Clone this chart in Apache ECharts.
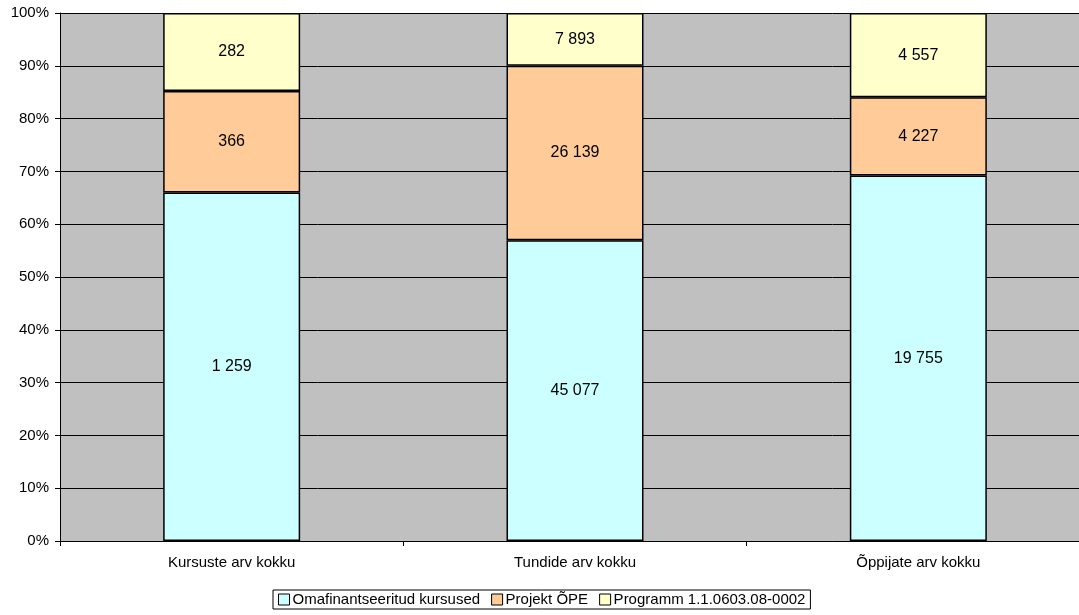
<!DOCTYPE html>
<html><head><meta charset="utf-8">
<script src="https://cdn.jsdelivr.net/npm/echarts@6/dist/echarts.min.js"></script>
<style>html,body{margin:0;padding:0;background:#fff;overflow:hidden}#c{width:1090px;height:615px}</style>
</head><body><div id="c"></div>
<script>
const categories = ['Kursuste arv kokku', 'Tundide arv kokku', 'Õppijate arv kokku'];
const seriesNames = ['Omafinantseeritud kursused', 'Projekt ÕPE', 'Programm 1.1.0603.08-0002'];
const omafinantseeritud = [1259, 45077, 19755];
const projektOPE = [366, 26139, 4227];
const programm = [282, 7893, 4557];
const colors = ['#CCFFFF', '#FFCC99', '#FFFFCC'];

const raw = [omafinantseeritud, projektOPE, programm];
const totals = categories.map((_, i) => raw.reduce((s, a) => s + a[i], 0));
const fmt = v => String(v).replace(/\B(?=(\d{3})+(?!\d))/g, ' ');
const font = 'Liberation Sans, Arial, sans-serif';

const chart = echarts.init(document.getElementById('c'));
chart.setOption({
  animation: false,
  textStyle: { fontFamily: font },
  grid: { left: 60, right: 0, top: 13, bottom: 74, show: true, backgroundColor: '#C0C0C0', borderWidth: 0 },
  legend: {
    bottom: 6, left: 273, itemWidth: 11, itemHeight: 11, itemGap: 11,
    borderColor: '#000', borderWidth: 1, padding: [2, 5, 2, 5],
    textStyle: { fontSize: 15, color: '#000', fontFamily: font, padding: [0, 0, 0, -2] },
    data: seriesNames.map(n => ({ name: n, icon: 'rect', itemStyle: { borderColor: '#000', borderWidth: 1 } }))
  },
  xAxis: {
    type: 'category', data: categories,
    axisLine: { lineStyle: { color: '#000' } },
    axisTick: { show: true, length: 5, lineStyle: { color: '#000' } },
    axisLabel: { color: '#000', fontSize: 15, margin: 14 }
  },
  yAxis: {
    type: 'value', min: 0, max: 100, interval: 10,
    axisLabel: { formatter: '{value}%', color: '#000', fontSize: 15, margin: 11 },
    axisLine: { show: true, lineStyle: { color: '#000' } },
    axisTick: { show: true, length: 5, lineStyle: { color: '#000' } },
    splitLine: { lineStyle: { color: '#000', width: 1 } }
  },
  series: raw.map((arr, k) => ({
    name: seriesNames[k], type: 'bar', stack: 'total', barWidth: '39.9%',
    itemStyle: { color: colors[k], borderColor: '#000', borderWidth: 1.5 },
    label: { show: true, position: 'inside', color: '#000', fontSize: 16, formatter: p => fmt(arr[p.dataIndex]) },
    data: arr.map((v, i) => v / totals[i] * 100)
  }))
});
</script></body></html>
